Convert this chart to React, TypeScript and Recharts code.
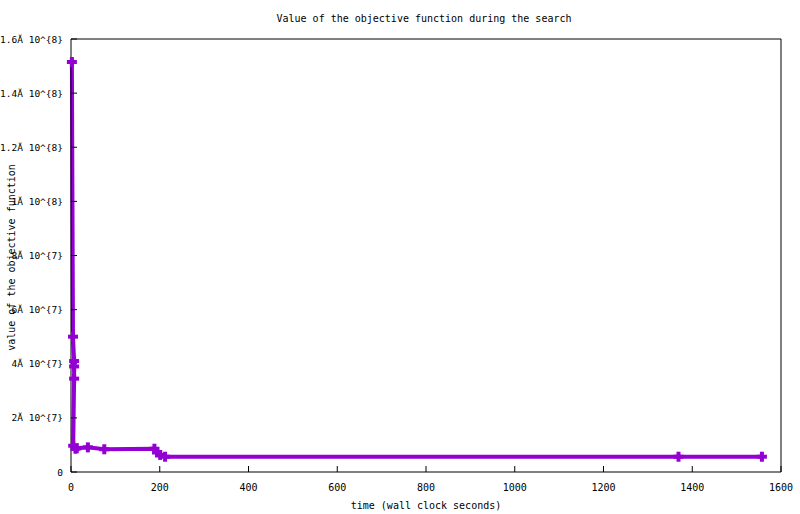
import React from 'react';
import { LineChart, Line, XAxis, YAxis, Label } from 'recharts';

// wall clock seconds and objective value
const times = [2, 4.5, 7, 7, 7, 5, 10, 13, 38, 75, 188, 194, 201, 212, 1369, 1557];
const objective = [
  1.515e8, 5.0e7, 4.1e7, 3.9e7, 3.45e7, 9.7e6, 8.6e6, 8.8e6, 9.1e6, 8.4e6,
  8.6e6, 7.2e6, 6.3e6, 5.65e6, 5.65e6, 5.65e6,
];

const xTicks = [0, 200, 400, 600, 800, 1000, 1200, 1400, 1600];
const yTicks = [0, 2e7, 4e7, 6e7, 8e7, 1e8, 1.2e8, 1.4e8, 1.6e8];
const yTickLabels = [
  '0',
  '2Ă 10^{7}',
  '4Ă 10^{7}',
  '6Ă 10^{7}',
  '8Ă 10^{7}',
  '1Ă 10^{8}',
  '1.2Ă 10^{8}',
  '1.4Ă 10^{8}',
  '1.6Ă 10^{8}',
];

const PURPLE = '#9400D3';
const FONT = 'DejaVu Sans Mono, monospace';
const tickStyle = { fill: '#000', fontSize: 10, fontFamily: FONT };

const data = times.map((t, i) => ({ t, v: objective[i] }));

// gnuplot style "+" point
const PlusDot = (props: any) => {
  const { cx, cy, index } = props;
  if (cx == null || cy == null) return null;
  return (
    <g key={`pt-${index}`}>
      <rect x={cx - 5} y={cy - 2} width={10} height={4} fill={PURPLE} />
      <rect x={cx - 2} y={cy - 5} width={4} height={10} fill={PURPLE} />
    </g>
  );
};

// plain text tick so the long labels don't wrap
const YTick = (props: any) => {
  const { x, y, payload } = props;
  const i = yTicks.indexOf(payload.value);
  return (
    <text x={x} y={y} textAnchor="end" dominantBaseline="central" fill="#000" fontSize={9.5} fontFamily={FONT}>
      {i >= 0 ? yTickLabels[i] : String(payload.value)}
    </text>
  );
};

export default function App() {
  return (
    <div style={{ position: 'absolute', left: 0, top: 0, width: 800, height: 514, background: '#fff' }}>
      <div
        style={{
          position: 'absolute',
          top: 13,
          left: 71,
          width: 706,
          textAlign: 'center',
          fontFamily: FONT,
          fontSize: 10,
          color: '#000',
        }}
      >
        Value of the objective function during the search
      </div>
      <LineChart width={800} height={514} data={data} margin={{ top: 34, right: 13, bottom: 0, left: 0 }}>
        <XAxis
          dataKey="t"
          type="number"
          domain={[0, 1600]}
          ticks={xTicks}
          interval={0}
          height={42}
          axisLine={{ stroke: '#000' }}
          tickLine={{ stroke: '#000' }}
          tickSize={-6}
          tickMargin={18}
          tick={tickStyle}
        >
          <Label
            value="time (wall clock seconds)"
            position="insideBottom"
            offset={5}
            style={{ fill: '#000', fontSize: 10, fontFamily: FONT }}
          />
        </XAxis>
        <XAxis
          xAxisId="top"
          orientation="top"
          type="number"
          domain={[0, 1600]}
          ticks={xTicks}
          interval={0}
          height={5}
          axisLine={{ stroke: '#000' }}
          tickLine={{ stroke: '#000' }}
          tickSize={-6}
          tick={false}
        />
        <YAxis
          type="number"
          domain={[0, 1.6e8]}
          ticks={yTicks}
          interval={0}
          width={71}
          axisLine={{ stroke: '#000' }}
          tickLine={{ stroke: '#000' }}
          tickSize={-6}
          tickMargin={14}
          tick={<YTick />}
        >
          <Label
            content={(p: any) => {
              const vb = p.viewBox || { x: 0, y: 39, height: 433 };
              const x = vb.x + 11;
              const y = vb.y + vb.height / 2 + 2;
              return (
                <text
                  x={x}
                  y={y}
                  transform={`rotate(-90 ${x} ${y})`}
                  textAnchor="middle"
                  dominantBaseline="central"
                  fill="#000"
                  fontSize={10}
                  fontFamily={FONT}
                >
                  value of the objective function
                </text>
              );
            }}
          />
        </YAxis>
        <YAxis
          yAxisId="right"
          orientation="right"
          type="number"
          domain={[0, 1.6e8]}
          ticks={yTicks}
          interval={0}
          width={6}
          axisLine={{ stroke: '#000' }}
          tickLine={{ stroke: '#000' }}
          tickSize={-6}
          tick={false}
        />
        <Line
          type="linear"
          dataKey="v"
          stroke={PURPLE}
          strokeWidth={4}
          dot={<PlusDot />}
          activeDot={false}
          isAnimationActive={false}
        />
      </LineChart>
    </div>
  );
}
